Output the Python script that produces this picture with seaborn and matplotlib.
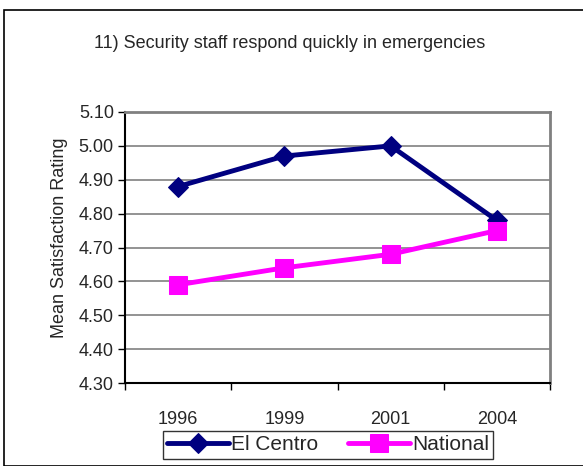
import matplotlib
matplotlib.use('Agg')
import matplotlib.pyplot as plt
import seaborn as sns
import pandas as pd
from matplotlib.patches import Rectangle

years = ['1996', '1999', '2001', '2004']
el_centro = [4.88, 4.97, 5.00, 4.78]
national = [4.59, 4.64, 4.68, 4.75]

sns.set_style('white')
plt.rcParams['font.family'] = ['Liberation Sans Narrow', 'Liberation Sans', 'DejaVu Sans']

df = pd.DataFrame({
    'x': list(range(len(years))) * 2,
    'value': el_centro + national,
    'series': ['El Centro'] * 4 + ['National'] * 4,
})

fig = plt.figure(figsize=(5.83, 4.66), dpi=100)
ax = fig.add_axes([125 / 583, 1 - 383 / 466, 425 / 583, 271 / 466])

sns.lineplot(data=df[df.series == 'El Centro'], x='x', y='value', ax=ax,
             color='#000080', lw=3.5, marker='D', markersize=10,
             markeredgecolor='#000080', label='El Centro')
sns.lineplot(data=df[df.series == 'National'], x='x', y='value', ax=ax,
             color='#FF00FF', lw=3.5, marker='s', markersize=13,
             markeredgecolor='#FF00FF', label='National')

ax.set_xlim(-0.5, 3.5)
ax.set_ylim(4.30, 5.10)
ax.set_yticks([4.30 + 0.1 * i for i in range(9)])
ax.set_yticklabels([f'{4.30 + 0.1 * i:.2f}' for i in range(9)], fontsize=13)
ax.yaxis.grid(True, color='#808080', lw=1.2)
ax.set_axisbelow(True)

ax.set_xticks([-0.5, 0.5, 1.5, 2.5, 3.5])
ax.set_xticklabels([])
ax.set_xticks(range(4), minor=True)
ax.set_xticklabels(years, minor=True, fontsize=13)
ax.tick_params(axis='x', which='major', direction='out', length=5, width=1, color='black', bottom=True)
ax.tick_params(axis='x', which='minor', length=0, pad=20)
ax.tick_params(axis='y', direction='out', length=5, width=1, color='black', left=True, pad=3)

ax.set_xlabel('')
ax.set_ylabel('')
fig.text(60 / 583, 1 - 238 / 466, 'Mean Satisfaction Rating', rotation=90,
         ha='center', va='center', fontsize=13)

for s in ['left', 'bottom']:
    ax.spines[s].set_color('black')
    ax.spines[s].set_linewidth(1.5)
for s in ['top', 'right']:
    ax.spines[s].set_color('#808080')
    ax.spines[s].set_linewidth(2)

fig.text(290 / 583, 1 - 44 / 466, '11) Security staff respond quickly in emergencies',
         ha='center', va='center', fontsize=13)

ax.get_legend().remove()
handles, labels = ax.get_legend_handles_labels()
leg = fig.legend(handles, labels, loc='center', bbox_to_anchor=(328 / 583, 1 - 445 / 466),
                 ncol=2, frameon=True, fancybox=False, edgecolor='black',
                 prop={'family': ['Liberation Sans', 'DejaVu Sans'], 'size': 15},
                 handlelength=3.0, columnspacing=1.4, handletextpad=0.1, borderpad=0.2)
leg.get_frame().set_linewidth(1)

fig.patches.append(Rectangle((4 / 583, 0), 1.2, 1 - 10 / 466, transform=fig.transFigure,
                             fill=False, edgecolor='black', lw=1.2))

fig.savefig('out.png', dpi=100)
